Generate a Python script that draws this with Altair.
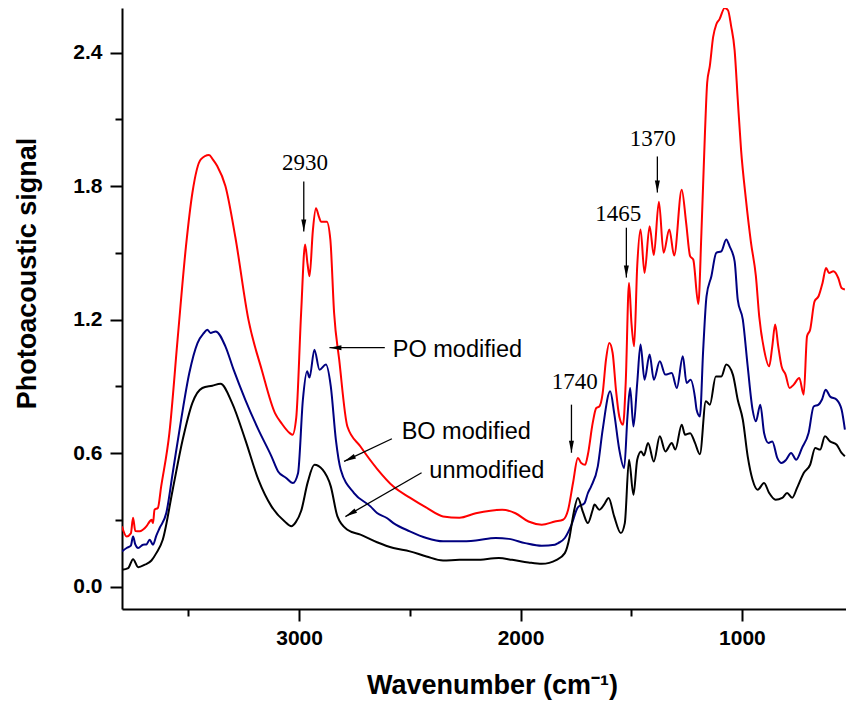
import altair as alt
import pandas as pd

# ---- spectra (wavenumber cm-1, photoacoustic signal) ----
red_wn = [3800, 3779, 3760, 3750, 3740, 3720, 3706, 3690, 3675, 3667, 3660, 3653, 3638, 3623, 3586, 3549, 3511, 3482, 3444, 3407, 3390, 3370, 3333, 3288, 3229, 3169, 3109, 3080, 3042, 3030, 3013, 2991, 2973, 2962, 2953, 2938, 2924, 2910, 2901, 2875, 2859, 2842, 2819, 2782, 2723, 2648, 2574, 2500, 2425, 2350, 2276, 2202, 2083, 2023, 1964, 1904, 1845, 1808, 1785, 1763, 1741, 1726, 1708, 1696, 1674, 1658, 1644, 1629, 1614, 1599, 1584, 1569, 1554, 1537, 1525, 1510, 1499, 1487, 1473, 1458, 1440, 1417, 1398, 1375, 1354, 1328, 1306, 1272, 1252, 1234, 1220, 1197, 1183, 1167, 1157, 1145, 1130, 1116, 1101, 1078, 1063, 1049, 1033, 1019, 1004, 982, 959, 937, 922, 900, 877, 863, 850, 836, 821, 803, 785, 766, 741, 721, 706, 692, 672, 654, 636, 620, 607, 587, 565, 550, 535]
red_val = [0.271, 0.226, 0.24, 0.31, 0.25, 0.249, 0.256, 0.271, 0.293, 0.301, 0.286, 0.346, 0.354, 0.451, 0.69, 1.11, 1.53, 1.77, 1.92, 1.94, 1.92, 1.89, 1.80, 1.57, 1.20, 0.975, 0.78, 0.735, 0.69, 0.683, 0.76, 1.23, 1.537, 1.45, 1.395, 1.60, 1.70, 1.66, 1.64, 1.64, 1.56, 1.23, 1.02, 0.72, 0.63, 0.53, 0.45, 0.40, 0.355, 0.316, 0.31, 0.33, 0.346, 0.33, 0.293, 0.279, 0.293, 0.301, 0.346, 0.466, 0.578, 0.556, 0.548, 0.593, 0.736, 0.803, 0.81, 0.87, 1.02, 1.095, 1.05, 0.885, 0.765, 0.728, 0.915, 1.365, 1.185, 1.08, 1.44, 1.605, 1.41, 1.62, 1.49, 1.73, 1.50, 1.605, 1.488, 1.784, 1.635, 1.485, 1.47, 1.27, 1.59, 2.04, 2.264, 2.34, 2.47, 2.526, 2.55, 2.6, 2.59, 2.52, 2.41, 2.19, 1.964, 1.74, 1.545, 1.395, 1.215, 1.065, 0.99, 1.08, 1.178, 1.08, 0.99, 0.953, 0.893, 0.908, 0.938, 0.863, 1.125, 1.155, 1.282, 1.305, 1.365, 1.432, 1.41, 1.417, 1.387, 1.342, 1.335]

blue_wn = [3800, 3779, 3760, 3750, 3740, 3727, 3705, 3690, 3675, 3660, 3645, 3630, 3600, 3571, 3533, 3496, 3459, 3430, 3415, 3400, 3377, 3333, 3296, 3243, 3184, 3125, 3095, 3060, 3028, 3005, 2983, 2964, 2953, 2931, 2908, 2879, 2857, 2834, 2812, 2752, 2678, 2648, 2604, 2574, 2500, 2425, 2350, 2276, 2202, 2112, 2053, 1979, 1904, 1845, 1830, 1800, 1770, 1741, 1711, 1696, 1681, 1651, 1629, 1595, 1577, 1554, 1532, 1517, 1505, 1490, 1473, 1458, 1440, 1417, 1398, 1371, 1346, 1317, 1294, 1267, 1250, 1232, 1212, 1205, 1190, 1175, 1160, 1138, 1116, 1093, 1071, 1056, 1033, 1019, 996, 974, 952, 937, 917, 900, 880, 863, 840, 821, 800, 778, 755, 729, 699, 676, 654, 639, 622, 602, 572, 550, 535]
blue_val = [0.159, 0.174, 0.185, 0.226, 0.19, 0.174, 0.189, 0.19, 0.211, 0.189, 0.23, 0.264, 0.331, 0.511, 0.75, 0.96, 1.095, 1.14, 1.155, 1.14, 1.147, 1.08, 0.975, 0.84, 0.706, 0.586, 0.518, 0.49, 0.466, 0.51, 0.84, 0.968, 0.94, 1.065, 0.975, 0.998, 0.90, 0.66, 0.526, 0.421, 0.361, 0.331, 0.309, 0.286, 0.249, 0.219, 0.204, 0.204, 0.208, 0.219, 0.215, 0.196, 0.184, 0.189, 0.196, 0.219, 0.278, 0.357, 0.376, 0.42, 0.451, 0.541, 0.706, 0.878, 0.78, 0.616, 0.533, 0.765, 0.893, 0.72, 0.915, 1.088, 0.93, 1.043, 0.93, 1.013, 0.953, 0.96, 0.893, 1.035, 0.915, 0.93, 0.85, 0.796, 0.765, 1.065, 1.305, 1.395, 1.50, 1.507, 1.56, 1.53, 1.462, 1.29, 1.20, 0.99, 0.796, 0.743, 0.818, 0.691, 0.646, 0.653, 0.578, 0.556, 0.571, 0.601, 0.571, 0.623, 0.691, 0.81, 0.818, 0.84, 0.885, 0.855, 0.84, 0.796, 0.706]

black_wn = [3800, 3772, 3750, 3727, 3697, 3667, 3645, 3616, 3571, 3526, 3482, 3437, 3392, 3355, 3303, 3243, 3184, 3125, 3065, 3035, 3015, 2991, 2961, 2931, 2894, 2857, 2827, 2782, 2723, 2648, 2574, 2500, 2425, 2350, 2276, 2202, 2098, 2038, 1964, 1904, 1837, 1800, 1778, 1763, 1741, 1718, 1696, 1674, 1666, 1644, 1622, 1602, 1577, 1547, 1529, 1510, 1490, 1473, 1455, 1443, 1424, 1398, 1371, 1346, 1317, 1301, 1272, 1257, 1234, 1212, 1190, 1163, 1145, 1118, 1093, 1071, 1041, 1019, 996, 974, 952, 929, 900, 877, 848, 818, 796, 773, 751, 721, 692, 669, 647, 625, 602, 572, 550, 535]
black_val = [0.076, 0.084, 0.124, 0.088, 0.099, 0.118, 0.151, 0.211, 0.436, 0.66, 0.826, 0.893, 0.903, 0.912, 0.826, 0.66, 0.481, 0.361, 0.293, 0.272, 0.29, 0.34, 0.47, 0.548, 0.526, 0.451, 0.316, 0.256, 0.234, 0.2, 0.174, 0.159, 0.136, 0.118, 0.121, 0.121, 0.129, 0.121, 0.109, 0.103, 0.121, 0.151, 0.226, 0.316, 0.399, 0.335, 0.286, 0.346, 0.369, 0.346, 0.37, 0.399, 0.316, 0.241, 0.286, 0.571, 0.413, 0.571, 0.608, 0.59, 0.646, 0.563, 0.676, 0.608, 0.646, 0.616, 0.728, 0.683, 0.69, 0.646, 0.595, 0.833, 0.818, 0.945, 0.945, 0.998, 0.953, 0.84, 0.75, 0.586, 0.481, 0.436, 0.466, 0.421, 0.391, 0.399, 0.421, 0.40, 0.444, 0.511, 0.548, 0.623, 0.616, 0.676, 0.653, 0.638, 0.601, 0.586]

series_names = ["PO modified", "BO modified", "unmodified"]
series_colors = ["#ff0000", "#000080", "#000000"]

# ---- annotations ----
peak_labels = ["2930", "1370", "1465", "1740"]
peak_label_wn = [2974, 1403, 1559, 1755]
peak_label_val = [1.874, 1.978, 1.645, 0.89]

curve_labels = ["PO modified", "BO modified", "unmodified"]
curve_label_wn = [2577, 2537, 2412]
curve_label_val = [1.034, 0.665, 0.49]

arrow_wn = [2979, 1382, 1522, 1770, 2613, 2581, 2447]
arrow_val = [1.820, 1.933, 1.613, 0.818, 1.074, 0.665, 0.512]
arrow_tip_wn = [2979, 1382, 1522, 1770, 2863, 2797, 2791]
arrow_tip_val = [1.596, 1.771, 1.389, 0.602, 1.074, 0.563, 0.315]
arrow_angle = [180, 180, 180, 180, 270, 244.6, 240.1]

# ---- tables ----
rows = []
for name, wn, val in [(series_names[0], red_wn, red_val),
                      (series_names[1], blue_wn, blue_val),
                      (series_names[2], black_wn, black_val)]:
    for i, (w, v) in enumerate(zip(wn, val)):
        rows.append({"series": name, "wn": w, "val": v, "idx": i})
spectra = pd.DataFrame(rows)

peaks_df = pd.DataFrame({"label": peak_labels, "wn": peak_label_wn, "val": peak_label_val})
curves_df = pd.DataFrame({"label": curve_labels, "wn": curve_label_wn, "val": curve_label_val})
arrows_df = pd.DataFrame({"wn": arrow_wn, "val": arrow_val, "wn2": arrow_tip_wn,
                          "val2": arrow_tip_val, "angle": arrow_angle})

SANS = "Liberation Sans, Arial, Helvetica, sans-serif"
SERIF = "Liberation Serif, Times New Roman, serif"

x_scale = alt.Scale(domain=[530, 3800], reverse=True, nice=False, zero=False)
y_scale = alt.Scale(domain=[-0.1, 2.6], nice=False, zero=False)

x_axis = alt.Axis(
    values=[3500, 3000, 2500, 2000, 1500, 1000],
    format="d",
    labelExpr="datum.value % 1000 === 0 ? datum.label : ''",
    tickSize={"condition": {"test": "datum.value % 1000 === 0", "value": 12}, "value": 7},
    grid=False, domainColor="black", domainWidth=2, tickColor="black", tickWidth=2,
    labelFont=SANS, labelFontSize=21, labelFontWeight="bold", labelColor="black",
    labelPadding=6,
    title="Wavenumber (cm⁻¹)", titleFont=SANS, titleFontSize=27, titleFontWeight="bold",
    titleColor="black", titleX=370, titleY=84, titleAlign="center", titleBaseline="alphabetic",
)
y_axis = alt.Axis(
    values=[0, 0.3, 0.6, 0.9, 1.2, 1.5, 1.8, 2.1, 2.4],
    format=".1f",
    labelExpr="round(datum.value * 10) % 6 === 0 ? datum.label : ''",
    tickSize={"condition": {"test": "round(datum.value * 10) % 6 === 0", "value": 12}, "value": 7},
    grid=False, domainColor="black", domainWidth=2, tickColor="black", tickWidth=2,
    labelFont=SANS, labelFontSize=21, labelFontWeight="bold", labelColor="black",
    labelPadding=8,
    title="Photoacoustic signal", titleFont=SANS, titleFontSize=27, titleFontWeight="bold",
    titleColor="black", titleX=-87, titleY=265, titleAngle=270, titleAlign="center",
    titleBaseline="alphabetic",
)

lines = alt.Chart(spectra).mark_line(strokeWidth=2, clip=True, interpolate="monotone").encode(
    x=alt.X("wn:Q", scale=x_scale, axis=x_axis),
    y=alt.Y("val:Q", scale=y_scale, axis=y_axis),
    color=alt.Color("series:N", scale=alt.Scale(domain=series_names, range=series_colors), legend=None),
    order=alt.Order("idx:Q"),
)

peak_text = alt.Chart(peaks_df).mark_text(
    font=SERIF, fontSize=23, align="center", baseline="alphabetic", color="black"
).encode(x="wn:Q", y="val:Q", text="label:N")

curve_text = alt.Chart(curves_df).mark_text(
    font=SANS, fontSize=23.5, align="left", baseline="alphabetic", color="black"
).encode(x="wn:Q", y="val:Q", text="label:N")

arrow_lines = alt.Chart(arrows_df).mark_rule(color="black", strokeWidth=1.3).encode(
    x="wn:Q", y="val:Q", x2="wn2:Q", y2="val2:Q"
)
arrow_heads = alt.Chart(arrows_df).mark_point(
    shape="M0,0L-0.5,2.4L0.5,2.4Z", filled=True, size=100, opacity=1, color="black"
).encode(x="wn2:Q", y="val2:Q", angle=alt.Angle("angle:Q", scale=None))

chart = alt.layer(lines, arrow_lines, arrow_heads, peak_text, curve_text).properties(
    width=724, height=601,
    autosize=alt.AutoSizeParams(type="none"),
    padding={"left": 114, "top": 0, "right": 0, "bottom": 95},
    background="white",
).configure_view(stroke=None)

chart.save("out.html", embed_options={"renderer": "svg", "actions": False})
